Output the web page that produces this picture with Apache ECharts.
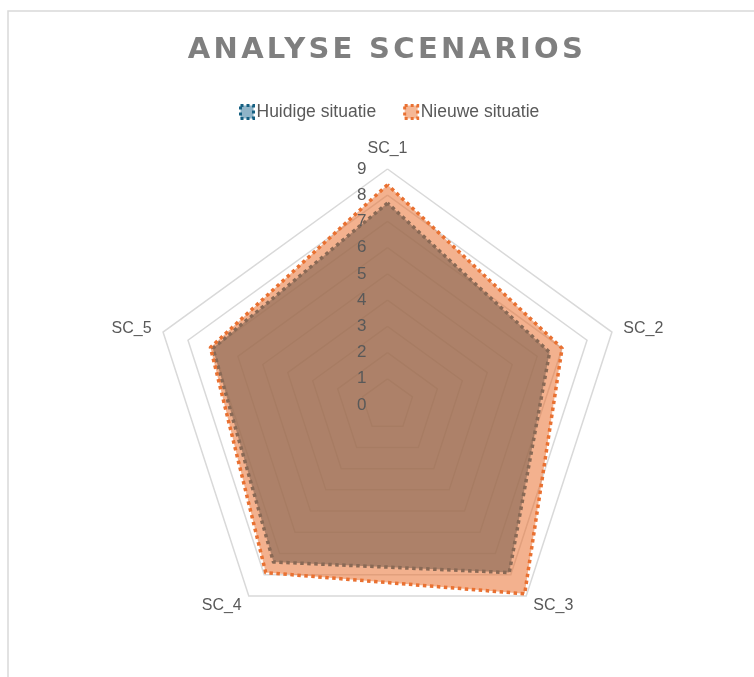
<!DOCTYPE html>
<html>
<head>
<meta charset="utf-8">
<script src="https://cdn.jsdelivr.net/npm/echarts@6/dist/echarts.min.js"></script>
<style>
  html, body { margin: 0; padding: 0; background: #fff; }
  #wrap { position: relative; width: 754px; height: 677px; overflow: hidden; }
  #main { width: 754px; height: 677px; }
  #title {
    position: absolute; left: 0; top: 31px; width: 774px; text-align: center;
    font-family: 'DejaVu Sans'; font-weight: bold; font-size: 29px; line-height: 34px;
    letter-spacing: 3.3px; color: #7f7f7f;
  }
</style>
</head>
<body>
<div id="wrap">
  <div id="main"></div>
  <div id="title">ANALYSE SCENARIOS</div>
</div>
<script>
// scenario scores
var categories = ['SC_1', 'SC_2', 'SC_3', 'SC_4', 'SC_5'];
var huidige = [7.7, 6.5, 7.9, 7.4, 7.0];
var nieuwe = [8.4, 7.0, 8.9, 7.9, 7.1];
var seriesNames = ['Huidige situatie', 'Nieuwe situatie'];
var maxValue = 9;

var blue = '#156082';
var orange = '#E97132';
var textGray = '#595959';
var font = 'Liberation Sans';
var center = [387.5, 405];
var radius = 236;

// echarts goes round counter-clockwise, excel clockwise: reorder
var order = [0, 4, 3, 2, 1];
function clockwise(arr) {
  return order.map(function (i) { return arr[i]; });
}

var chart = echarts.init(document.getElementById('main'));

var indicators = clockwise(categories).map(function (c) {
  return { name: c, min: 0, max: maxValue };
});
var labelIndicators = clockwise(categories).map(function (c, i) {
  var ind = { name: c, min: 0, max: maxValue };
  if (i === 0) ind.axisLabel = { show: true };
  return ind;
});

var option = {
  backgroundColor: '#fff',
  animation: false,
  legend: {
    top: 98,
    left: 234,
    itemGap: 27,
    itemWidth: 13,
    itemHeight: 13,
    icon: 'rect',
    textStyle: { fontFamily: font, fontSize: 17.5, color: textGray, padding: [0, 0, 0, -2] },
    data: [
      { name: seriesNames[0], itemStyle: { color: '#8fb4c8', borderColor: blue, borderWidth: 3, borderType: 'dotted' } },
      { name: seriesNames[1], itemStyle: { color: '#f5b896', borderColor: orange, borderWidth: 3, borderType: 'dotted' } }
    ]
  },
  radar: [{
    center: center,
    radius: radius,
    shape: 'polygon',
    splitNumber: 9,
    startAngle: 90,
    nameGap: 12,
    axisName: { fontFamily: font, fontSize: 16, color: textGray },
    indicator: indicators,
    axisLine: { show: false },
    axisTick: { show: false },
    axisLabel: { show: false },
    splitLine: { lineStyle: { color: '#d9d9d9', width: 1.5 } },
    splitArea: { show: false }
  }, {
    // second radar only to put the 0..9 labels above the areas
    center: center,
    radius: radius,
    shape: 'polygon',
    splitNumber: 9,
    startAngle: 90,
    z: 5,
    axisName: { show: false },
    indicator: labelIndicators,
    axisLine: { show: false },
    axisTick: { show: false },
    axisLabel: { show: false, fontFamily: font, fontSize: 17, color: textGray, margin: 21 },
    splitLine: { show: false },
    splitArea: { show: false }
  }],
  series: [{
    type: 'radar',
    radarIndex: 0,
    symbol: 'none',
    data: [
      {
        name: seriesNames[0],
        value: clockwise(huidige),
        lineStyle: { color: blue, width: 3.5, type: 'dotted' },
        areaStyle: { color: blue, opacity: 0.66 },
        itemStyle: { color: blue }
      },
      {
        name: seriesNames[1],
        value: clockwise(nieuwe),
        lineStyle: { color: orange, width: 3.5, type: 'dotted' },
        areaStyle: { color: orange, opacity: 0.55 },
        itemStyle: { color: orange }
      }
    ]
  }],
  graphic: [{
    type: 'rect',
    silent: true,
    shape: { x: 8, y: 11, width: 800, height: 700 },
    style: { fill: 'none', stroke: '#d9d9d9', lineWidth: 1.5 }
  }]
};

chart.setOption(option);
</script>
</body>
</html>
